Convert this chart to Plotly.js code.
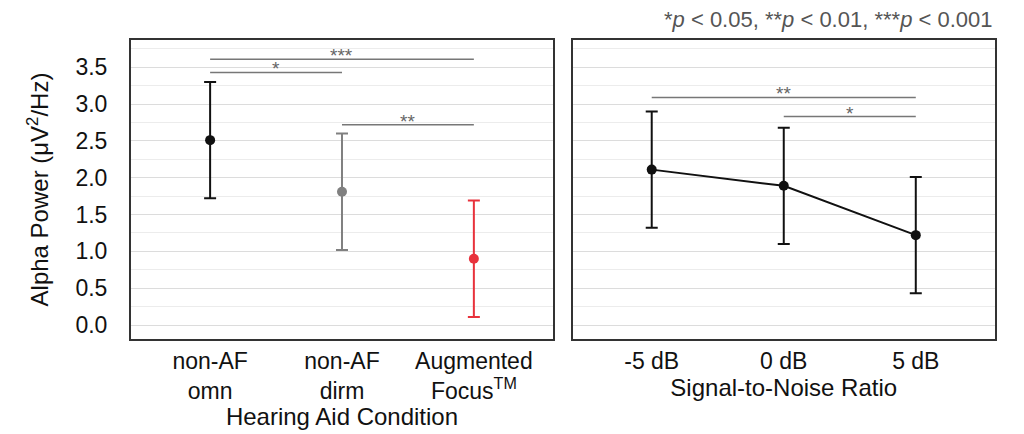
<!DOCTYPE html>
<html>
<head>
<meta charset="utf-8">
<script src="https://cdn.plot.ly/plotly-3.0.1.min.js"></script>
<style>html,body{margin:0;padding:0;background:#fff;}#chart{width:1024px;height:434px;}</style>
</head>
<body>
<div id="chart"></div>
<script>
// Left panel: hearing aid condition
const conditions = ['non-AF<br>omn', 'non-AF<br>dirm', 'Augmented<br>Focus<sup>TM</sup>'];
const condMean  = [2.51, 1.81, 0.90];
const condUpper = [3.30, 2.60, 1.69];
const condLower = [1.72, 1.02, 0.11];
const condColors = ['#111111', '#808080', '#e8323c'];

// Right panel: signal-to-noise ratio
const snrLabels = ['-5 dB', '0 dB', '5 dB'];
const snrMean  = [2.11, 1.89, 1.22];
const snrUpper = [2.90, 2.68, 2.01];
const snrLower = [1.32, 1.10, 0.43];

// Significance brackets
const sigLeftFrom  = [0, 0, 1];
const sigLeftTo    = [2, 1, 2];
const sigLeftY     = [3.61, 3.43, 2.72];
const sigLeftText  = ['***', '*', '**'];
const sigRightFrom = [0, 1];
const sigRightTo   = [2, 2];
const sigRightY    = [3.09, 2.83];
const sigRightText = ['**', '*'];

const FAM = 'Liberation Sans, Arial, Helvetica, sans-serif';
const traces = [];
conditions.forEach((c, i) => {
  traces.push({
    type: 'scatter', mode: 'markers', x: [c], y: [condMean[i]],
    xaxis: 'x', yaxis: 'y',
    marker: {color: condColors[i], size: 10},
    error_y: {type: 'data', symmetric: false,
      array: [condUpper[i] - condMean[i]], arrayminus: [condMean[i] - condLower[i]],
      color: condColors[i], thickness: 2, width: 6},
    showlegend: false, hoverinfo: 'skip'
  });
});
traces.push({
  type: 'scatter', mode: 'lines+markers', x: snrLabels, y: snrMean,
  xaxis: 'x2', yaxis: 'y2',
  line: {color: '#111111', width: 2},
  marker: {color: '#111111', size: 10},
  error_y: {type: 'data', symmetric: false,
    array: snrUpper.map((u, i) => u - snrMean[i]),
    arrayminus: snrMean.map((m, i) => m - snrLower[i]),
    color: '#111111', thickness: 2, width: 6},
  showlegend: false, hoverinfo: 'skip'
});

const annotations = [];
function addSig(cats, from, to, ys, texts, xa, ya) {
  for (let i = 0; i < from.length; i++) {
    traces.push({
      type: 'scatter', mode: 'lines', x: [cats[from[i]], cats[to[i]]], y: [ys[i], ys[i]],
      xaxis: xa, yaxis: ya, line: {color: '#777777', width: 1.5},
      showlegend: false, hoverinfo: 'skip'
    });
    annotations.push({
      xref: xa, yref: ya, x: (from[i] + to[i]) / 2, y: ys[i],
      text: texts[i], showarrow: false, yanchor: 'bottom', yshift: -9,
      font: {family: FAM, size: 19, color: '#666666'}
    });
  }
}
addSig(conditions, sigLeftFrom, sigLeftTo, sigLeftY, sigLeftText, 'x', 'y');
addSig(snrLabels, sigRightFrom, sigRightTo, sigRightY, sigRightText, 'x2', 'y2');

annotations.push({
  xref: 'paper', yref: 'paper', x: 1.0, y: 1.067, xanchor: 'right', yanchor: 'middle',
  text: '*<i>p</i> < 0.05, **<i>p</i> < 0.01, ***<i>p</i> < 0.001',
  showarrow: false, font: {family: FAM, size: 22, color: '#555555'}
});

const font = {family: FAM, size: 23, color: '#111111'};
const yCommon = {
  range: [-0.19, 3.87], dtick: 0.5, tick0: 0, showgrid: true, gridcolor: '#dcdcdc', gridwidth: 1,
  minor: {dtick: 0.25, showgrid: true, gridcolor: '#ececec', gridwidth: 1},
  zeroline: false, showline: true, linecolor: '#333333', linewidth: 2, mirror: true,
  ticks: '', tickformat: '.1f', fixedrange: true
};
const xCommon = {
  type: 'category', range: [-0.6, 2.6], showgrid: false, zeroline: false,
  showline: true, linecolor: '#333333', linewidth: 2, mirror: true, ticks: '',
  tickfont: {family: FAM, size: 23, color: '#111111'}
};

const layout = {
  width: 1024, height: 434,
  margin: {l: 131, r: 29, t: 40, b: 95},
  paper_bgcolor: '#ffffff', plot_bgcolor: '#ffffff',
  font: font,
  showlegend: false,
  xaxis: Object.assign({}, xCommon, {domain: [0, 0.4884], anchor: 'y',
    title: {text: 'Hearing Aid Condition', font: {family: FAM, size: 24, color: '#111111'}, standoff: 6}}),
  xaxis2: Object.assign({}, xCommon, {domain: [0.511, 1], anchor: 'y2',
    title: {text: 'Signal-to-Noise Ratio', font: {family: FAM, size: 24, color: '#111111'}, standoff: 6}}),
  yaxis: Object.assign({}, yCommon, {anchor: 'x', ticklabelstandoff: 17,
    tickfont: {family: FAM, size: 23, color: '#111111'},
    title: {text: 'Alpha Power (μV<sup>2</sup>/Hz)', font: {family: FAM, size: 24, color: '#111111'}, standoff: 20}}),
  yaxis2: Object.assign({}, yCommon, {anchor: 'x2', showticklabels: false}),
  annotations: annotations
};

Plotly.newPlot('chart', traces, layout, {staticPlot: true, displayModeBar: false});
</script>
</body>
</html>
